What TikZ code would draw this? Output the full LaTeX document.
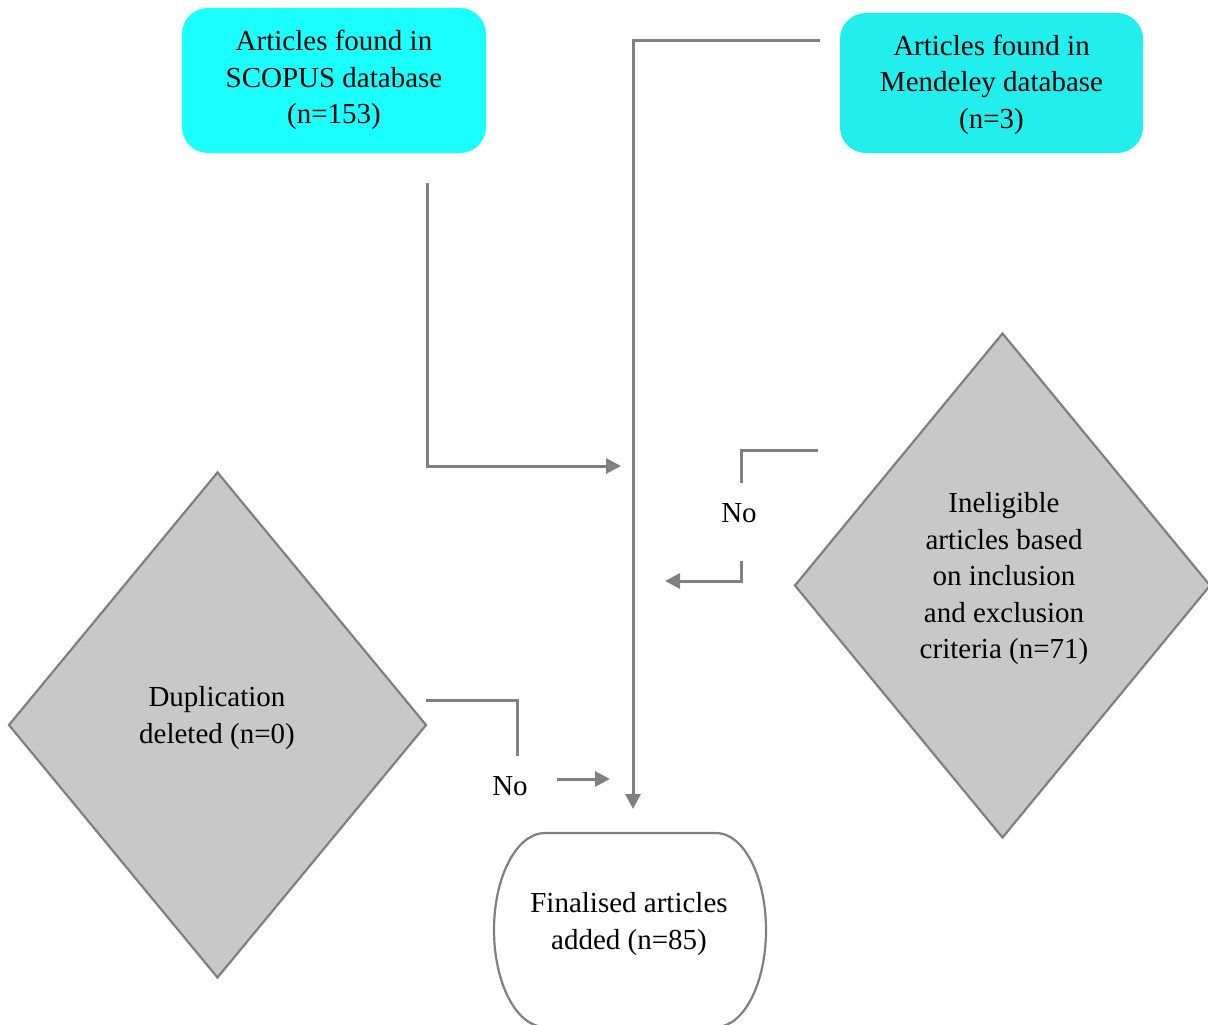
\documentclass[tikz,border=0pt]{standalone}
\usepackage{fontspec}
\setmainfont{Liberation Serif}
\usetikzlibrary{shapes.geometric,arrows.meta}
\definecolor{cyanA}{HTML}{1BFFFF}
\definecolor{cyanB}{HTML}{22EEEE}
\definecolor{lgray}{HTML}{C8C8C8}
\definecolor{lgrey}{HTML}{808080}
\tikzset{
  txt/.style={align=center,font=\fontsize{29}{36.5}\selectfont,inner sep=0pt},
  dbbox/.style={rounded corners=26pt,draw=none,inner sep=0pt},
  dia/.style={diamond,draw=lgrey,fill=lgray,line width=2.2pt,inner sep=0pt},
  conn/.style={draw=lgrey,line width=3pt},
  arr/.style={conn,-{Triangle[length=15pt,width=15pt]}},
}
\begin{document}
\begin{tikzpicture}[x=1pt,y=-1pt]
\useasboundingbox (0,0) rectangle (1208,1025);
% database boxes
\node[dbbox,fill=cyanA,minimum width=304pt,minimum height=145pt] (scopus) at (334,80.5) {};
\node[txt] (scopust) at (334,80) {Articles found in\\SCOPUS database\\(n=153)};
\node[dbbox,fill=cyanB,minimum width=303pt,minimum height=140pt] (mend) at (991.5,83) {};
\node[txt] (mendt) at (991.5,84.5) {Articles found in\\Mendeley database\\(n=3)};
% diamonds
\node[dia,minimum width=416pt,minimum height=505pt] (ineli) at (1002.5,585.5) {};
\node[txt] (inelit) at (1004,579) {Ineligible\\articles based\\on inclusion\\and exclusion\\criteria (n=71)};
\node[dia,minimum width=418pt,minimum height=506pt] (dup) at (217.5,725) {};
\node[txt] (dupt) at (217,718) {Duplication\\deleted (n=0)};
% final terminal
\draw[draw=lgrey,line width=2.2pt,fill=white]
  (545,833) -- (716,833) arc[start angle=-90,end angle=90,x radius=50,y radius=97]
  -- (545,1027) arc[start angle=90,end angle=270,x radius=51,y radius=97] -- cycle;
\node[txt] (fin) at (629,924) {Finalised articles\\added (n=85)};
% connectors
\coordinate (m1) at (820,41);
\coordinate (m2) at (633,41);
\coordinate (m3) at (633,809);
\draw[arr] (m1) -- (m2) -- (m3);
\coordinate (s1) at (427,183);
\coordinate (s2) at (427,466);
\coordinate (s3) at (621,466);
\draw[arr] (s1) -- (s2) -- (s3);
\coordinate (r1) at (818,450);
\coordinate (r2) at (741,450);
\coordinate (r3) at (741,483);
\draw[conn] (r1) -- (r2) -- (r3);
\node[txt] (no1) at (739,513) {No};
\coordinate (r4) at (741,561);
\coordinate (r5) at (741,581);
\coordinate (r6) at (665,581);
\draw[arr] (r4) -- (r5) -- (r6);
\coordinate (d1) at (426,700);
\coordinate (d2) at (517,700);
\coordinate (d3) at (517,756);
\draw[conn] (d1) -- (d2) -- (d3);
\node[txt] (no2) at (510,786) {No};
\coordinate (d4) at (557,779);
\coordinate (d5) at (610,779);
\draw[arr] (d4) -- (d5);
\end{tikzpicture}
\end{document}
